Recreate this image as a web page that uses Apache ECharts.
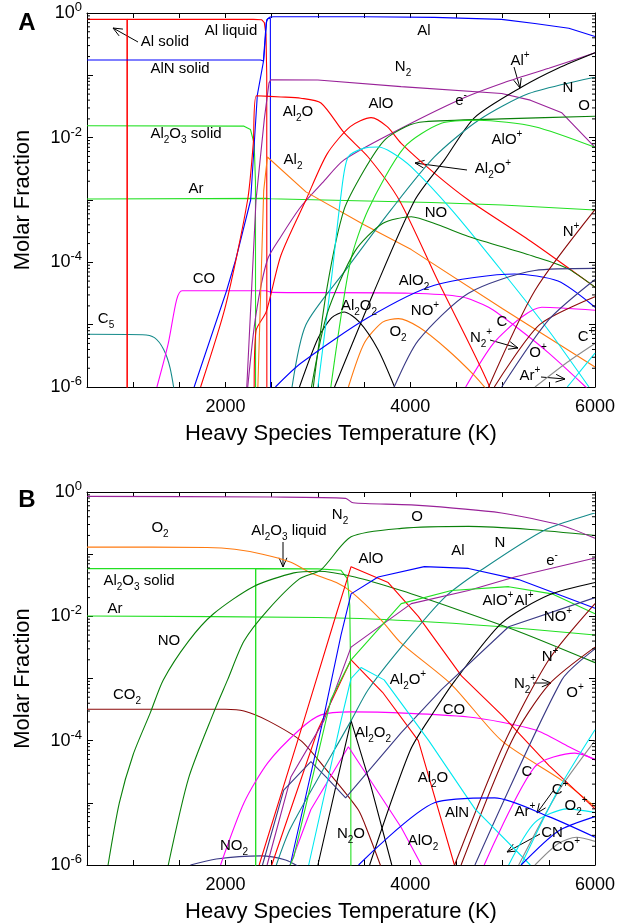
<!DOCTYPE html>
<html>
<head>
<meta charset="utf-8">
<script src="https://cdn.jsdelivr.net/npm/echarts@6/dist/echarts.min.js"></script>
<style>
  html, body { margin: 0; padding: 0; background: #fff; }
  #main { width: 619px; height: 924px; }
</style>
</head>
<body>
<div id="main"></div>
<script>
// ---- data: molar fraction vs heavy species temperature (K) ----
// panel A
var A_AlSolid = [[500,0.79],[935,0.79],[935,1e-9]];
var A_AlLiquid = [[935,1e-9],[935,0.79],[2300,0.79],[2390,0.78],[2420,0.7],[2438,0.45],[2446,0.1],[2448,1e-9]];
var A_AlNSolid = [[500,0.176],[2380,0.176],[2410,0.17],[2440,0.7],[2460,0.82],[2485,0.82],[2489,1e-9]];
var A_Al = [[1660,1e-6],[2011,3.5e-5],[2110,1.1e-4],[2272,1e-3],[2344,0.048],[2413,0.175],[2446,0.78],[2480,0.86],[2520,0.87],[3500,0.87],[4263,0.85],[4989,0.79],[5348,0.68],[5717,0.57],[6000,0.42]];
var A_Al2O = [[1730,1e-6],[2000,2e-5],[2239,1e-3],[2300,8e-3],[2334,0.047],[2600,0.045],[2815,0.043],[3033,0.036],[3283,0.012],[3544,4.9e-3],[3880,1e-3],[4300,5e-5],[4848,1.1e-6],[4950,3e-7]];
var A_AlO = [[2310,1e-6],[2330,8e-6],[2440,1.6e-5],[2600,1.3e-4],[2870,1e-3],[3100,5.5e-3],[3350,0.015],[3576,0.021],[3750,0.015],[3902,8.1e-3],[4261,2.7e-3],[4630,1e-3],[5300,2.2e-4],[6000,4e-5]];
var A_Al2O3Solid = [[500,0.0155],[2200,0.0153],[2270,0.0135],[2310,0.008],[2324,0.002],[2326,1e-9]];
var A_Ar = [[500,1.04e-3],[2440,1.06e-3],[2485,1.05e-3],[2495,9.8e-4],[4228,9.1e-4],[5000,8.3e-4],[6000,6.9e-4]];
var A_CO = [[1257,1e-6],[1380,5e-6],[1470,2.5e-5],[1530,3.5e-5],[2440,3.5e-5],[2495,3.3e-5],[4000,3.2e-5],[4550,2.8e-5],[4848,1.9e-5],[5200,8e-6],[5500,3.5e-6],[5900,1e-6],[6000,7e-7]];
var A_C = [[4600,1e-6],[4900,5e-6],[5200,1.3e-5],[5424,1.9e-5],[6000,1.7e-5]];
var A_C5 = [[500,7e-6],[1100,6.9e-6],[1230,6.2e-6],[1330,4e-6],[1400,2e-6],[1470,5e-7]];
var A_Al2 = [[2350,1e-6],[2413,1.4e-3],[2453,4.9e-3],[2870,1.35e-3],[3500,4e-4],[4011,1.6e-4],[5000,1.8e-5],[6000,2.1e-6]];
var A_O2 = [[3330,1e-6],[3500,5e-6],[3700,1.1e-5],[3870,1.25e-5],[4100,9e-6],[4400,4e-6],[4700,1.5e-6],[4860,8e-7]];
var A_N2 = [[2230,1e-6],[2330,1e-3],[2420,0.02],[2470,0.075],[2490,0.085],[3000,0.084],[3900,0.066],[4990,0.051],[5300,0.04],[5641,0.025],[6000,7e-3]];
var A_e = [[2240,1e-6],[2326,1.35e-5],[2453,1.1e-4],[2600,2.6e-4],[2815,7.8e-4],[3050,1.9e-3],[3283,4.4e-3],[3793,0.0117],[4522,0.04],[4989,0.074],[5500,0.13],[6000,0.23]];
var A_AlPlus = [[3180,1e-6],[3600,3.2e-5],[4050,1e-3],[4370,4.4e-3],[4696,0.021],[5207,0.065],[5600,0.13],[6000,0.23]];
var A_Al2O2 = [[2800,1e-6],[3000,6e-6],[3150,1.3e-5],[3283,1.6e-5],[3450,1.1e-5],[3650,4e-6],[3830,1e-6]];
var A_N = [[2720,1e-6],[2870,1e-5],[3300,7.5e-5],[3793,7e-4],[4261,4.9e-3],[4739,0.019],[5283,0.051],[6000,0.093]];
var A_O = [[2950,1e-6],[3100,4e-5],[3283,7e-4],[3500,3e-3],[3717,9e-3],[3950,0.015],[4152,0.018],[4989,0.02],[6000,0.022]];
var A_AlOPlus = [[3140,1e-6],[3350,1e-4],[3544,7e-4],[3935,7e-3],[4337,0.017],[4739,0.019],[5348,0.015],[6000,7e-3]];
var A_Al2OPlus = [[3000,1e-6],[3150,6e-5],[3250,1.2e-3],[3326,4.9e-3],[3500,6.8e-3],[3652,7.1e-3],[3800,5.8e-3],[4011,3.4e-3],[4446,7e-4],[5000,7e-5],[5500,8e-6],[5935,1e-6]];
var A_NO = [[2930,1e-6],[3100,1.5e-5],[3400,1.5e-4],[3700,4.2e-4],[4011,5.4e-4],[4300,4e-4],[4630,2.6e-4],[5348,1.23e-4],[5700,8e-5],[6000,4e-5]];
var A_AlO2 = [[2540,1e-6],[2815,2.4e-6],[3544,1.3e-5],[4261,4.3e-5],[5130,6.5e-5],[5600,5e-5],[6000,1.9e-5]];
var A_NOPlus = [[3826,1e-6],[4087,5.6e-6],[4630,3.2e-5],[5348,7.4e-5],[6000,8e-5]];
var A_NPlus = [[4848,1e-6],[5348,3.5e-5],[6000,7e-4]];
var A_N2Plus = [[4910,1e-6],[5400,1e-5],[6000,2.8e-5]];
var A_OPlus = [[4990,1e-6],[5500,1.2e-5],[6000,5.3e-5]];
var A_CPlus = [[5350,1e-6],[5700,2.5e-6],[6000,5e-6]];
var A_ArPlus = [[5700,1e-6],[6000,3.5e-6]];

// panel B
var B_N2 = [[500,0.85],[2500,0.83],[3300,0.79],[3380,0.67],[4011,0.62],[4989,0.46],[5641,0.29],[6000,0.18]];
var B_O2 = [[500,0.13],[1800,0.128],[2100,0.12],[2400,0.1],[2700,0.075],[2924,0.05],[3200,0.035],[3359,0.025],[3685,8.7e-3],[3902,3.7e-3],[4446,8e-4],[4989,1e-4],[5641,2.3e-5],[6000,8.7e-6]];
var B_Al2O3Solid = [[500,0.0585],[2326,0.0585],[2326,1e-9]];
var B_Al2O3Liquid = [[2326,1e-9],[2326,0.0585],[3000,0.058],[3250,0.055],[3320,0.04],[3345,0.015],[3355,1e-3],[3359,1e-9]];
var B_Ar = [[500,0.0101],[3000,0.0096],[4000,0.0085],[4989,0.0068],[6000,0.005]];
var B_NO = [[728,1e-6],[850,1e-5],[1000,6e-5],[1185,2.8e-4],[1326,9.5e-4],[1600,4e-3],[1870,0.011],[2300,0.03],[2739,0.05],[3000,0.053],[3400,0.043],[3902,0.026],[4500,0.013],[5200,0.0055],[6000,1.8e-3]];
var B_O = [[1380,1e-6],[1600,2.5e-5],[1870,2.8e-4],[2022,9.5e-4],[2200,4e-3],[2457,0.0126],[2800,0.04],[3033,0.056],[3359,0.19],[3902,0.26],[4630,0.28],[5300,0.25],[6000,0.2]];
var B_CO2 = [[500,3.2e-4],[2000,3.2e-4],[2200,3e-4],[2457,2.1e-4],[2815,1e-4],[3065,3.8e-5],[3435,7.8e-6],[3544,3.3e-6],[3700,8e-7]];
var B_AlO = [[2364,1e-6],[2848,2.1e-4],[3200,0.011],[3359,0.063],[3761,0.035],[4087,0.01],[4554,1.1e-3],[5000,2.5e-4],[5500,4e-5],[6000,8e-6]];
var B_Al2O = [[2500,1e-6],[3000,1.5e-4],[3359,2e-3],[3700,6e-4],[4087,1e-4],[4478,1e-6]];
var B_Al = [[2700,1e-6],[3054,2.1e-4],[3250,5e-3],[3359,0.023],[3652,0.043],[4152,0.063],[4630,0.059],[5174,0.039],[6000,0.0135]];
var B_N = [[2550,1e-6],[2707,4e-6],[3359,2.1e-4],[3544,6.6e-4],[3902,3.2e-3],[4370,0.02],[4772,0.056],[5457,0.245],[6000,0.46]];
var B_e = [[2450,1e-6],[2707,2.6e-5],[3065,2.1e-4],[3359,3.2e-3],[4011,0.016],[4630,0.026],[5130,0.043],[6000,0.087]];
var B_AlOPlus = [[2700,1e-6],[2739,1.35e-6],[3141,4.6e-4],[3359,2e-3],[3902,0.016],[4446,0.026],[5065,0.03],[5533,0.023],[6000,0.011]];
var B_AlPlus = [[3560,1e-6],[4000,7e-5],[4261,3e-4],[4478,9e-4],[4989,7.8e-3],[5500,0.022],[6000,0.035]];
var B_NOPlus = [[2400,1e-6],[2630,1.6e-5],[2924,4.6e-5],[3100,2.5e-5],[3300,1.2e-5],[3600,4e-5],[3902,1.35e-4],[4337,6.6e-4],[5065,6.8e-3],[6000,0.02]];
var B_NO2 = [[1620,1e-6],[1900,1.25e-6],[2380,1.4e-6],[2650,1.2e-6],[2815,9e-7]];
var B_NPlus = [[4480,1e-6],[5000,8e-5],[5500,2e-3],[6000,0.016]];
var B_N2Plus = [[4550,1e-6],[5100,1e-4],[5500,8e-4],[6000,3.2e-3]];
var B_OPlus = [[4700,1e-6],[5641,9.5e-4],[6000,3e-3]];
var B_CO = [[1946,1e-6],[2200,1e-5],[2457,4.4e-5],[2800,1.5e-4],[3033,2.6e-4],[3359,2.9e-4],[4630,2.4e-4],[5348,1.5e-4],[5717,8e-5],[6000,4.9e-5]];
var B_AlO2 = [[2700,1e-6],[2924,7.8e-6],[3330,8e-5],[3902,4e-6],[4120,1e-6]];
var B_Al2O2 = [[3000,1e-6],[3200,2e-5],[3359,2.1e-4],[3576,1.8e-5],[3800,1e-6]];
var B_Al2OPlus = [[2900,1e-6],[3250,2.1e-4],[3359,1e-3],[3467,1.5e-3],[3717,9.5e-4],[4200,1e-4],[4700,8e-6],[5300,1e-6]];
var B_C = [[4800,1e-6],[5348,3.8e-5],[5783,6.3e-5],[6000,5e-5]];
var B_CPlus = [[5174,1e-6],[5600,1.5e-5],[6000,1e-4]];
var B_COPlus = [[5350,1e-6],[5600,2.2e-6],[5800,2.8e-6],[6000,2.4e-6]];
var B_CN = [[5065,1e-6],[5348,4.8e-6],[5700,8e-6],[6000,7e-6]];
var B_ArPlus = [[5200,1e-6],[5600,1.6e-5],[6000,1.5e-4]];
var B_AlN = [[3440,1e-6],[4261,1e-5],[4913,1.2e-5],[5500,6e-6],[6000,2.8e-6]];
var B_O2Plus = [[5200,1e-6],[5600,3.5e-6],[6000,6e-6]];

var xTicks = [2000, 4000, 6000];

// ---- styles ----
var RED = '#ff0000', BLUE = '#0000ff', PURPLE = '#992299', GREEN = '#22e022',
    DKGREEN = '#0a800a', TEAL = '#148a8a', CYAN = '#00e8f0', ORANGE = '#ff7a10',
    MAGENTA = '#ff00ff', BLACK = '#000000', NAVY = '#3a3a85', MAROON = '#8b0a0a', GRAY = '#8c8c8c';

// [data, color, smooth?]
var seriesA = [
  [A_C5, TEAL, 1], [A_CO, MAGENTA, 1], [A_C, MAGENTA, 1], [A_Ar, GREEN, 0],
  [A_Al2O3Solid, GREEN, 0], [A_AlSolid, RED, 0], [A_AlLiquid, RED, 0],
  [A_AlNSolid, BLUE, 0], [A_Al, BLUE, 0], [A_N2, PURPLE, 0], [A_e, PURPLE, 1],
  [A_Al2O, RED, 1], [A_AlO, RED, 1], [A_Al2, ORANGE, 0], [A_O2, ORANGE, 1],
  [A_AlPlus, BLACK, 1], [A_Al2O2, BLACK, 1], [A_N, TEAL, 1], [A_O, DKGREEN, 1],
  [A_AlOPlus, GREEN, 1], [A_Al2OPlus, CYAN, 1], [A_NO, DKGREEN, 1], [A_AlO2, BLUE, 1],
  [A_NOPlus, NAVY, 1], [A_NPlus, MAROON, 1], [A_N2Plus, MAROON, 1], [A_OPlus, NAVY, 1],
  [A_CPlus, GRAY, 1], [A_ArPlus, CYAN, 1]
];
var seriesB = [
  [B_NO2, NAVY, 1], [B_CO2, MAROON, 1], [B_Ar, GREEN, 1], [B_Al2O3Solid, GREEN, 0],
  [B_Al2O3Liquid, GREEN, 0], [B_O2, ORANGE, 1], [B_NO, DKGREEN, 1], [B_O, DKGREEN, 1],
  [B_N2, PURPLE, 1], [B_CO, MAGENTA, 1], [B_AlO2, MAGENTA, 0], [B_Al2O2, BLACK, 0],
  [B_AlO, RED, 0], [B_Al2O, RED, 0], [B_Al, BLUE, 0], [B_N, TEAL, 1], [B_e, PURPLE, 0],
  [B_AlOPlus, GREEN, 0], [B_AlPlus, BLACK, 1], [B_NOPlus, NAVY, 0], [B_NPlus, MAROON, 1],
  [B_N2Plus, MAROON, 1], [B_OPlus, NAVY, 1], [B_Al2OPlus, CYAN, 0], [B_C, MAGENTA, 1],
  [B_CPlus, GRAY, 1], [B_COPlus, GRAY, 1], [B_CN, CYAN, 1], [B_ArPlus, CYAN, 1],
  [B_AlN, BLUE, 1], [B_O2Plus, BLUE, 1]
];

// [text, x, y]  ('_' = subscript, '^' = superscript)
var labelsA = [
  ['Al solid', 165, 42], ['Al liquid', 231, 31], ['AlN solid', 180, 69], ['Al_2O_3 solid', 186, 134],
  ['Ar', 196, 189], ['Al_2O', 298, 112], ['Al_2', 293, 160], ['CO', 204, 279], ['C_5', 106, 319],
  ['Al', 424, 31], ['N_2', 403, 67], ['AlO', 381, 104], ['e^-', 461, 101], ['Al^+', 520, 61],
  ['N', 568, 88], ['O', 584, 106], ['AlO^+', 507, 140], ['Al_2O^+', 493, 169], ['NO', 436, 213],
  ['AlO_2', 414, 281], ['Al_2O_2', 359, 306], ['NO^+', 425, 311], ['O_2', 398, 332], ['N^+', 571, 232],
  ['C', 502, 322], ['N_2^+', 481, 338], ['O^+', 538, 353], ['C^+', 586, 337], ['Ar^+', 530, 376]
];
var labelsB = [
  ['O_2', 160, 528], ['Al_2O_3 liquid', 289, 531], ['Al_2O_3 solid', 139, 581], ['Ar', 115, 609],
  ['NO', 169, 641], ['CO_2', 127, 695], ['NO_2', 234, 846], ['N_2', 340, 515], ['O', 417, 517],
  ['Al', 458, 551], ['N', 500, 543], ['e^-', 552, 561], ['AlO', 371, 559], ['AlO^+', 498, 601],
  ['Al^+', 524, 601], ['NO^+', 558, 617], ['N^+', 550, 657], ['N_2^+', 525, 684], ['O^+', 575, 693],
  ['Al_2O^+', 408, 680], ['CO', 454, 710], ['Al_2O_2', 373, 733], ['Al_2O', 433, 778], ['C', 527, 772],
  ['C^+', 560, 790], ['O_2^+', 576, 806], ['Ar^+', 525, 812], ['AlN', 457, 813], ['CN', 552, 833],
  ['CO^+', 566, 847], ['N_2O', 351, 834], ['AlO_2', 423, 841]
];
// [x1, y1, x2 (head), y2 (head)]
var arrows = [
  [138, 42, 113, 28], [514, 67, 520, 88], [467, 170, 415, 163], [490, 340, 518, 348],
  [541, 377, 565, 379], [283, 542, 283, 567], [533, 683, 551, 683], [553, 791, 537, 813],
  [540, 834, 507, 852]
];

var FONT = 'Liberation Sans, Arial, Helvetica, sans-serif';

function toRich(s) {
  var out = '', buf = '';
  for (var i = 0; i < s.length; i++) {
    var c = s[i];
    if (c === '_' || c === '^') {
      if (buf) { out += '{n|' + buf + '}'; buf = ''; }
      out += '{' + (c === '_' ? 'sb' : 'sp') + '|' + s[i + 1] + '}';
      i++;
    } else {
      buf += c;
    }
  }
  if (buf) out += '{n|' + buf + '}';
  return out;
}

var labelRich = {
  n: { fontSize: 15, lineHeight: 22, fontFamily: FONT, fill: '#000' },
  sb: { fontSize: 10, lineHeight: 10, verticalAlign: 'bottom', fontFamily: FONT, fill: '#000' },
  sp: { fontSize: 10, lineHeight: 10, verticalAlign: 'top', fontFamily: FONT, fill: '#000' }
};

function textEl(s, x, y) {
  return {
    type: 'text', x: x, y: y, z: 100, silent: true,
    style: { text: toRich(s), rich: labelRich, align: 'center', verticalAlign: 'middle',
             textAlign: 'center', textVerticalAlign: 'middle', fill: '#000', font: '15px ' + FONT }
  };
}

function arrowEl(a) {
  var ang = Math.atan2(a[3] - a[1], a[2] - a[0]);
  var len = 10, spread = 0.4;
  var st = { stroke: '#000', lineWidth: 1 };
  return {
    type: 'group', z: 100, silent: true, children: [
      { type: 'line', shape: { x1: a[0], y1: a[1], x2: a[2], y2: a[3] }, style: st },
      { type: 'line', shape: { x1: a[2], y1: a[3], x2: a[2] - len * Math.cos(ang - spread), y2: a[3] - len * Math.sin(ang - spread) }, style: st },
      { type: 'line', shape: { x1: a[2], y1: a[3], x2: a[2] - len * Math.cos(ang + spread), y2: a[3] - len * Math.sin(ang + spread) }, style: st }
    ]
  };
}

var X_MIN = 500, X_MAX = 6000;

// minor log ticks (2..9 x 10^k)
var minorTicks = [];
for (var k = -6; k < 0; k++) {
  for (var m = 2; m <= 9; m++) minorTicks.push(m * Math.pow(10, k));
}

var lineSt = { color: '#000', width: 1 };

function xAxes(gi) {
  return [
    {
      type: 'value', gridIndex: gi, min: X_MIN, max: X_MAX, interval: 500, position: 'bottom',
      name: 'Heavy Species Temperature (K)', nameLocation: 'middle', nameGap: 36,
      nameTextStyle: { fontSize: 22, fontFamily: FONT, color: '#000' },
      axisLine: { lineStyle: lineSt }, splitLine: { show: false },
      axisTick: { inside: true, length: 5, lineStyle: lineSt },
      axisLabel: {
        margin: 11, fontSize: 18, fontFamily: FONT, color: '#000',
        formatter: function (v) { return xTicks.indexOf(v) >= 0 ? String(v) : ''; }
      }
    },
    {
      type: 'value', gridIndex: gi, min: X_MIN, max: X_MAX, interval: 500, position: 'top',
      axisLine: { lineStyle: lineSt }, splitLine: { show: false },
      axisTick: { inside: true, length: 5, lineStyle: lineSt }, axisLabel: { show: false }
    }
  ];
}

function yAxes(gi) {
  return [
    {
      type: 'log', logBase: 10, gridIndex: gi, min: 1e-6, max: 1, splitNumber: 6, position: 'left',
      name: 'Molar Fraction', nameLocation: 'middle', nameGap: 53,
      nameTextStyle: { fontSize: 22, fontFamily: FONT, color: '#000' },
      axisLine: { lineStyle: lineSt }, splitLine: { show: false },
      axisTick: { inside: true, length: 6, lineStyle: lineSt },
      axisLabel: {
        margin: 5, color: '#000',
        formatter: function (v) {
          var e = Math.round(Math.log10(v));
          if (e % 2 !== 0) return '';
          return '{b|10}{s|' + (e === 0 ? '0' : String(e)) + '}';
        },
        rich: {
          b: { fontSize: 18, lineHeight: 24, fontFamily: FONT, color: '#000' },
          s: { fontSize: 13, lineHeight: 13, verticalAlign: 'top', fontFamily: FONT, color: '#000' }
        }
      }
    },
    {
      type: 'log', logBase: 10, gridIndex: gi, min: 1e-6, max: 1, splitNumber: 6, position: 'right',
      axisLine: { lineStyle: lineSt }, splitLine: { show: false },
      axisTick: { inside: true, length: 6, lineStyle: lineSt }, axisLabel: { show: false }
    }
  ];
}

function minorTickSeries(xi, yi) {
  return {
    type: 'custom', xAxisIndex: xi, yAxisIndex: yi, silent: true, clip: false, z: 10,
    data: minorTicks.map(function (v) { return [X_MIN, v]; }),
    renderItem: function (params, api) {
      var v = api.value(1);
      var l = api.coord([X_MIN, v]);
      var r = api.coord([X_MAX, v]);
      var st = { stroke: '#000', lineWidth: 1 };
      return {
        type: 'group', children: [
          { type: 'line', shape: { x1: l[0], y1: l[1], x2: l[0] + 3, y2: l[1] }, style: st },
          { type: 'line', shape: { x1: r[0] - 3, y1: r[1], x2: r[0], y2: r[1] }, style: st }
        ]
      };
    }
  };
}

function lineSeries(list, xi, yi) {
  return list.map(function (s) {
    return {
      type: 'line', xAxisIndex: xi, yAxisIndex: yi, data: s[0], showSymbol: false, symbol: 'none',
      smooth: s[2] ? 0.25 : false, clip: true, silent: true,
      lineStyle: { color: s[1], width: 1.1 }, itemStyle: { color: s[1] }
    };
  });
}

var myChart = echarts.init(document.getElementById('main'));

var graphics = [
  { type: 'text', x: 27, y: 23, z: 100, style: { text: 'A', font: 'bold 24px ' + FONT, fill: '#000', align: 'center', verticalAlign: 'middle', textAlign: 'center', textVerticalAlign: 'middle' } },
  { type: 'text', x: 27, y: 500, z: 100, style: { text: 'B', font: 'bold 24px ' + FONT, fill: '#000', align: 'center', verticalAlign: 'middle', textAlign: 'center', textVerticalAlign: 'middle' } }
];
labelsA.concat(labelsB).forEach(function (l) { graphics.push(textEl(l[0], l[1], l[2])); });
arrows.forEach(function (a) { graphics.push(arrowEl(a)); });

var option = {
  animation: false,
  backgroundColor: '#fff',
  grid: [
    { left: 87, top: 13, width: 508, height: 374 },
    { left: 87, top: 492, width: 508, height: 373 }
  ],
  xAxis: xAxes(0).concat(xAxes(1)),
  yAxis: yAxes(0).concat(yAxes(1)),
  series: []
    .concat(lineSeries(seriesA, 0, 0))
    .concat(lineSeries(seriesB, 2, 2))
    .concat([minorTickSeries(0, 0), minorTickSeries(2, 2)]),
  graphic: graphics
};

myChart.setOption(option);
</script>
</body>
</html>
